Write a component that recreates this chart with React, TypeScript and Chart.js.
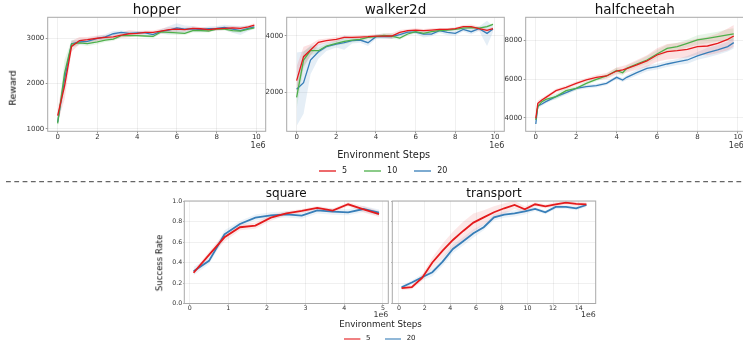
import React, { useEffect, useRef } from "react";
import { Chart, registerables } from "chart.js";

Chart.register(...registerables);

const FONT = "'DejaVu Sans', 'Liberation Sans', sans-serif";
const RED = "#e41a1c";
const GREEN = "#4daf4a";
const BLUE = "#377eb8";

// ---------- legend labels ----------
const LEGEND_TOP = ["5", "10", "20"];
const LEGEND_BOTTOM = ["5", "20"];

// ---------- tick values ----------
const stepsTicksTop = [0, 2, 4, 6, 8, 10];
const hopperYTicks = [1000, 2000, 3000];
const walkerYTicks = [2000, 4000];
const cheetahYTicks = [4000, 6000, 8000];
const squareXTicks = [0, 1, 2, 3, 4, 5];
const transportXTicks = [0, 2, 4, 6, 8, 10, 12, 14];
const successYTicks = [0, 0.2, 0.4, 0.6, 0.8, 1.0];

// ---------- hopper ----------
const hopperX = [0, 0.35, 0.7, 1.1, 1.5, 2, 2.4, 2.8, 3.2, 3.6, 4, 4.4, 4.8, 5.2, 5.6, 6, 6.4, 6.8, 7.2, 7.6, 8, 8.4, 8.8, 9.2, 9.6, 9.9];
const hopper5 = [1290, 1950, 2820, 2950, 2970, 3000, 3020, 3030, 3070, 3100, 3110, 3130, 3130, 3160, 3190, 3200, 3190, 3220, 3210, 3190, 3210, 3220, 3230, 3220, 3250, 3290];
const hopper10 = [1120, 2230, 2870, 2900, 2880, 2920, 2960, 2980, 3060, 3060, 3060, 3050, 3040, 3140, 3130, 3120, 3110, 3170, 3170, 3160, 3200, 3200, 3170, 3160, 3200, 3230];
const hopper20 = [1150, 2100, 2880, 2920, 2930, 3000, 3030, 3100, 3130, 3110, 3120, 3120, 3080, 3150, 3180, 3230, 3200, 3210, 3190, 3210, 3220, 3240, 3200, 3170, 3220, 3250];
const hopper5Sd = [150, 300, 120, 80, 60, 60, 50, 60, 60, 80, 50, 40, 40, 50, 60, 50, 40, 40, 40, 40, 40, 40, 40, 40, 40, 40];
const hopper10Sd = [100, 300, 80, 50, 50, 50, 40, 40, 40, 30, 30, 30, 40, 40, 50, 50, 40, 40, 40, 30, 30, 30, 40, 40, 30, 30];
const hopper20Sd = [100, 250, 80, 50, 60, 50, 60, 60, 40, 40, 40, 40, 50, 50, 90, 100, 80, 60, 50, 50, 50, 60, 80, 100, 60, 40];

// ---------- walker2d ----------
const walkerX = [0, 0.35, 0.7, 1.1, 1.5, 2, 2.4, 2.8, 3.2, 3.6, 4, 4.4, 4.8, 5.2, 5.6, 6, 6.4, 6.8, 7.2, 7.6, 8, 8.4, 8.8, 9.2, 9.6, 9.9];
const walker5 = [2412, 3259, 3494, 3765, 3824, 3870, 3941, 3940, 3953, 3965, 3988, 3988, 3990, 4118, 4176, 4200, 4176, 4200, 4224, 4224, 4247, 4318, 4318, 4247, 4188, 4247];
const walker10 = [1824, 3141, 3470, 3470, 3635, 3730, 3800, 3847, 3870, 3940, 3965, 4012, 3988, 3918, 4060, 4141, 4082, 4141, 4176, 4200, 4224, 4270, 4282, 4270, 4318, 4400];
const walker20 = [2106, 2341, 3141, 3435, 3612, 3706, 3753, 3824, 3847, 3753, 3965, 3965, 3965, 4035, 4129, 4129, 4059, 4059, 4176, 4118, 4082, 4224, 4141, 4247, 4082, 4235];
const walker5Sd = [500, 350, 200, 100, 80, 80, 60, 60, 60, 60, 60, 80, 100, 80, 60, 60, 60, 60, 50, 50, 50, 60, 80, 80, 60, 60];
const walker10Sd = [400, 300, 150, 100, 80, 80, 100, 80, 60, 60, 60, 80, 100, 60, 60, 60, 60, 60, 50, 50, 50, 50, 50, 50, 50, 50];
const walker20Sd = [1300, 1100, 500, 250, 150, 120, 250, 100, 100, 120, 80, 80, 80, 60, 60, 60, 120, 80, 80, 100, 80, 80, 100, 80, 450, 100];

// ---------- halfcheetah ----------
const cheetahX = [0, 0.1, 0.3, 0.5, 1, 1.5, 2, 2.5, 3, 3.5, 4, 4.3, 4.5, 5, 5.5, 6, 6.5, 7, 7.5, 8, 8.5, 9, 9.5, 9.8];
const cheetah5 = [3983, 4755, 4927, 5064, 5408, 5579, 5785, 5957, 6094, 6163, 6420, 6480, 6541, 6730, 6936, 7245, 7416, 7468, 7536, 7674, 7708, 7845, 8051, 8223];
const cheetah10 = [3897, 4584, 4842, 4961, 5099, 5408, 5528, 5785, 5991, 6163, 6450, 6330, 6558, 6781, 6987, 7296, 7588, 7674, 7845, 8017, 8103, 8189, 8275, 8326];
const cheetah20 = [3691, 4618, 4721, 4842, 5099, 5305, 5528, 5614, 5665, 5785, 6094, 5957, 6094, 6335, 6558, 6644, 6781, 6884, 6987, 7193, 7365, 7502, 7674, 7880];
const cheetah5Sd = [100, 150, 100, 100, 100, 100, 100, 100, 120, 150, 180, 200, 200, 250, 300, 350, 400, 400, 420, 420, 480, 500, 560, 560];
const cheetah10Sd = [100, 150, 100, 100, 150, 150, 100, 100, 100, 100, 150, 150, 150, 150, 200, 200, 200, 200, 200, 250, 250, 250, 300, 300];
const cheetah20Sd = [100, 120, 100, 100, 100, 120, 100, 100, 100, 100, 100, 100, 120, 150, 150, 150, 150, 150, 200, 200, 250, 250, 250, 300];

// ---------- square ----------
const squareX = [0.1, 0.5, 0.9, 1.3, 1.7, 2.1, 2.5, 2.9, 3.3, 3.7, 4.1, 4.5, 4.9];
const square5 = [0.30, 0.474, 0.646, 0.744, 0.76, 0.838, 0.88, 0.903, 0.932, 0.906, 0.968, 0.919, 0.873];
const square20 = [0.315, 0.416, 0.675, 0.776, 0.838, 0.86, 0.87, 0.857, 0.909, 0.896, 0.89, 0.922, 0.886];
const square5Sd = [0.02, 0.03, 0.04, 0.03, 0.03, 0.03, 0.02, 0.02, 0.02, 0.02, 0.02, 0.03, 0.03];
const square20Sd = [0.04, 0.03, 0.04, 0.03, 0.03, 0.03, 0.03, 0.03, 0.03, 0.03, 0.03, 0.03, 0.03];

// ---------- transport ----------
const transportX = [0.2, 1.0, 1.8, 2.6, 3.4, 4.2, 5.0, 5.8, 6.6, 7.4, 8.2, 9.0, 9.8, 10.6, 11.4, 12.2, 13.0, 13.8, 14.6];
const transport5 = [0.149, 0.159, 0.25, 0.40, 0.516, 0.62, 0.708, 0.789, 0.84, 0.89, 0.929, 0.961, 0.919, 0.968, 0.948, 0.968, 0.984, 0.971, 0.968];
const transport20 = [0.159, 0.205, 0.256, 0.305, 0.409, 0.532, 0.607, 0.685, 0.744, 0.84, 0.867, 0.88, 0.899, 0.922, 0.89, 0.942, 0.942, 0.929, 0.961];
const transport5Sd = [0.02, 0.02, 0.03, 0.05, 0.07, 0.08, 0.09, 0.09, 0.07, 0.06, 0.05, 0.04, 0.03, 0.02, 0.02, 0.02, 0.02, 0.02, 0.02];
const transport20Sd = [0.02, 0.02, 0.03, 0.04, 0.04, 0.04, 0.04, 0.04, 0.03, 0.03, 0.03, 0.03, 0.03, 0.02, 0.02, 0.02, 0.02, 0.02, 0.02];

type Series = { color: string; y: number[]; sd: number[] };

type PanelSpec = {
  title: string;
  titleSize: number;
  titlePadTop: number;
  titlePadBottom: number;
  left: number;
  top: number;
  width: number;
  height: number;
  yAxisWidth: number;
  xAxisHeight: number;
  padRight: number;
  x: number[];
  series: Series[]; // first is drawn on top
  xMin: number;
  xMax: number;
  xTicks: number[];
  yMin: number;
  yMax: number;
  yTicks: number[];
  yDecimals: number;
  showYLabels: boolean;
  tickSize: number;
  xTickLen: number;
  xTickPad: number;
  yTickLen: number;
  yTickPad: number;
  lineWidth: number;
  bandAlpha: number;
  offsetDy: number;
  offsetSize: number;
};

function rgba(hex: string, a: number) {
  const n = parseInt(hex.slice(1), 16);
  return `rgba(${(n >> 16) & 255},${(n >> 8) & 255},${n & 255},${a})`;
}

const TOP_COMMON = {
  titleSize: 13.5,
  titlePadTop: 3.5,
  titlePadBottom: 0.3,
  top: 0,
  height: 152,
  xAxisHeight: 20.7,
  tickSize: 7,
  xTickLen: 2,
  xTickPad: 0,
  yTickLen: 2,
  yTickPad: 1.4,
  lineWidth: 1.3,
  bandAlpha: 0.13,
  offsetDy: 14.7,
  offsetSize: 8,
  yDecimals: 0,
  showYLabels: true,
  xTicks: stepsTicksTop,
};

const BOTTOM_COMMON = {
  titleSize: 12,
  titlePadTop: 0.1,
  titlePadBottom: 0.9,
  top: 188,
  height: 132,
  xAxisHeight: 16.5,
  tickSize: 6.3,
  xTickLen: 1,
  xTickPad: 0,
  yTickLen: 1,
  yTickPad: 1,
  lineWidth: 1.8,
  bandAlpha: 0.1,
  offsetDy: 11.5,
  offsetSize: 7.8,
  yDecimals: 1,
  yMin: 0,
  yMax: 1,
  yTicks: successYTicks,
};

const PANELS: PanelSpec[] = [
  {
    ...TOP_COMMON,
    title: "hopper",
    left: 0,
    width: 268,
    yAxisWidth: 47.7,
    padRight: 2.3,
    x: hopperX,
    series: [
      { color: RED, y: hopper5, sd: hopper5Sd },
      { color: GREEN, y: hopper10, sd: hopper10Sd },
      { color: BLUE, y: hopper20, sd: hopper20Sd },
    ],
    xMin: -0.5,
    xMax: 10.47,
    yMin: 945,
    yMax: 3463,
    yTicks: hopperYTicks,
  },
  {
    ...TOP_COMMON,
    title: "walker2d",
    left: 262,
    width: 245,
    yAxisWidth: 24.7,
    padRight: 2.7,
    x: walkerX,
    series: [
      { color: RED, y: walker5, sd: walker5Sd },
      { color: GREEN, y: walker10, sd: walker10Sd },
      { color: BLUE, y: walker20, sd: walker20Sd },
    ],
    xMin: -0.5,
    xMax: 10.47,
    yMin: 622,
    yMax: 4650,
    yTicks: walkerYTicks,
  },
  {
    ...TOP_COMMON,
    title: "halfcheetah",
    left: 501,
    width: 245,
    yAxisWidth: 24.7,
    padRight: 2.1,
    x: cheetahX,
    series: [
      { color: RED, y: cheetah5, sd: cheetah5Sd },
      { color: GREEN, y: cheetah10, sd: cheetah10Sd },
      { color: BLUE, y: cheetah20, sd: cheetah20Sd },
    ],
    xMin: -0.5,
    xMax: 10.3,
    yMin: 3315,
    yMax: 9185,
    yTicks: cheetahYTicks,
  },
  {
    ...BOTTOM_COMMON,
    title: "square",
    left: 150,
    width: 241,
    yAxisWidth: 34.3,
    padRight: 2.7,
    x: squareX,
    series: [
      { color: RED, y: square5, sd: square5Sd },
      { color: BLUE, y: square20, sd: square20Sd },
    ],
    xMin: -0.14,
    xMax: 5.14,
    xTicks: squareXTicks,
    showYLabels: true,
  },
  {
    ...BOTTOM_COMMON,
    title: "transport",
    left: 370,
    width: 228,
    yAxisWidth: 22.3,
    padRight: 2.3,
    x: transportX,
    series: [
      { color: RED, y: transport5, sd: transport5Sd },
      { color: BLUE, y: transport20, sd: transport20Sd },
    ],
    xMin: -0.52,
    xMax: 15.32,
    xTicks: transportXTicks,
    showYLabels: false,
  },
];

const framePlugin = {
  id: "frame",
  afterDatasetsDraw(chart: any) {
    const { ctx, chartArea: a } = chart;
    ctx.save();
    ctx.strokeStyle = "#a9a9a9";
    ctx.lineWidth = 1;
    ctx.strokeRect(a.left, a.top, a.right - a.left, a.bottom - a.top);
    ctx.restore();
  },
};

const offsetTextPlugin = {
  id: "offsetText",
  afterDraw(chart: any, _args: any, opts: any) {
    const { ctx, chartArea: a } = chart;
    ctx.save();
    ctx.font = `${opts.size}px ${FONT}`;
    ctx.fillStyle = "#333";
    ctx.textAlign = "right";
    ctx.textBaseline = "middle";
    ctx.fillText(opts.text, a.right, a.bottom + opts.dy);
    ctx.restore();
  },
};

function buildConfig(p: PanelSpec): any {
  const lines = p.series.map((s) => ({
    data: p.x.map((xv, i) => ({ x: xv, y: s.y[i] })),
    borderColor: s.color,
    backgroundColor: s.color,
    borderWidth: p.lineWidth,
    pointRadius: 0,
    fill: false,
    tension: 0,
  }));
  const bands: any[] = [];
  p.series.forEach((s) => {
    bands.push({
      data: p.x.map((xv, i) => ({ x: xv, y: s.y[i] + s.sd[i] })),
      borderColor: "rgba(0,0,0,0)",
      borderWidth: 0,
      pointRadius: 0,
      backgroundColor: rgba(s.color, p.bandAlpha),
      fill: "+1",
      tension: 0,
    });
    bands.push({
      data: p.x.map((xv, i) => ({ x: xv, y: s.y[i] - s.sd[i] })),
      borderColor: "rgba(0,0,0,0)",
      borderWidth: 0,
      pointRadius: 0,
      fill: false,
      tension: 0,
    });
  });
  const tickFont = { family: FONT, size: p.tickSize };
  return {
    type: "line",
    data: { datasets: [...lines, ...bands] },
    plugins: [framePlugin, offsetTextPlugin],
    options: {
      responsive: false,
      animation: false,
      events: [],
      layout: { padding: { left: 0, top: 0, right: p.padRight, bottom: 0 } },
      plugins: {
        legend: { display: false },
        tooltip: { enabled: false },
        title: {
          display: true,
          text: p.title,
          fullSize: false,
          color: "#111",
          font: { family: FONT, size: p.titleSize, weight: "normal", lineHeight: 1 },
          padding: { top: p.titlePadTop, bottom: p.titlePadBottom },
        },
        offsetText: { text: "1e6", dy: p.offsetDy, size: p.offsetSize },
      },
      scales: {
        x: {
          type: "linear",
          min: p.xMin,
          max: p.xMax,
          afterBuildTicks: (s: any) => {
            s.ticks = p.xTicks.map((v) => ({ value: v }));
          },
          ticks: {
            autoSkip: false,
            maxRotation: 0,
            font: tickFont,
            color: "#333",
            padding: p.xTickPad,
            callback: (v: number) => String(v),
          },
          grid: { color: "rgba(0,0,0,0.06)", tickColor: "#999", tickLength: p.xTickLen },
          border: { display: false },
          afterFit: (s: any) => {
            s.height = p.xAxisHeight;
          },
        },
        y: {
          type: "linear",
          min: p.yMin,
          max: p.yMax,
          afterBuildTicks: (s: any) => {
            s.ticks = p.yTicks.map((v) => ({ value: v }));
          },
          ticks: {
            autoSkip: false,
            display: p.showYLabels,
            font: tickFont,
            color: "#333",
            padding: p.yTickPad,
            callback: (v: number) => Number(v).toFixed(p.yDecimals),
          },
          grid: { color: "rgba(0,0,0,0.06)", tickColor: "#999", tickLength: p.yTickLen },
          border: { display: false },
          afterFit: (s: any) => {
            s.width = p.yAxisWidth;
          },
        },
      },
    },
  };
}

function Panel({ spec }: { spec: PanelSpec }) {
  const ref = useRef<HTMLCanvasElement | null>(null);
  useEffect(() => {
    if (!ref.current) return;
    const chart = new Chart(ref.current, buildConfig(spec));
    return () => chart.destroy();
  }, [spec]);
  return (
    <canvas
      ref={ref}
      width={spec.width}
      height={spec.height}
      style={{ position: "absolute", left: spec.left, top: spec.top, width: spec.width, height: spec.height }}
    />
  );
}

function VText({ text, cx, cy, size }: { text: string; cx: number; cy: number; size: number }) {
  return (
    <div
      style={{
        position: "absolute",
        left: cx,
        top: cy,
        transform: "translate(-50%, -50%) rotate(180deg)",
        writingMode: "vertical-rl",
        fontSize: size,
        lineHeight: 1,
        whiteSpace: "nowrap",
        color: "#111",
      }}
    >
      {text}
    </div>
  );
}

function HText({ text, cx, top, size }: { text: string; cx: number; top: number; size: number }) {
  return (
    <div
      style={{
        position: "absolute",
        left: cx,
        top,
        transform: "translateX(-50%)",
        fontSize: size,
        lineHeight: 1,
        whiteSpace: "nowrap",
        color: "#222",
      }}
    >
      {text}
    </div>
  );
}

function Legend({
  labels,
  colors,
  left,
  top,
  size,
  lineLen,
  lineW,
  textGap,
  itemGap,
}: {
  labels: string[];
  colors: string[];
  left: number;
  top: number;
  size: number;
  lineLen: number;
  lineW: number;
  textGap: number;
  itemGap: number;
}) {
  return (
    <div
      style={{
        position: "absolute",
        left,
        top,
        display: "flex",
        alignItems: "center",
        height: size + 2,
        fontSize: size,
        lineHeight: 1,
        color: "#222",
        whiteSpace: "nowrap",
      }}
    >
      {labels.map((l, i) => (
        <div key={l} style={{ display: "flex", alignItems: "center", marginRight: i < labels.length - 1 ? itemGap : 0 }}>
          <svg width={lineLen} height={4} style={{ marginRight: textGap, display: "block" }}>
            <line x1={0} y1={2} x2={lineLen} y2={2} stroke={colors[i]} strokeWidth={lineW} />
          </svg>
          <span>{l}</span>
        </div>
      ))}
    </div>
  );
}

export default function App() {
  return (
    <div
      style={{
        position: "fixed",
        left: 0,
        top: 0,
        width: 743,
        height: 343,
        overflow: "hidden",
        background: "#fff",
        fontFamily: FONT,
      }}
    >
      {PANELS.map((p) => (
        <Panel key={p.title} spec={p} />
      ))}
      <VText text="Reward" cx={13.3} cy={88} size={9.5} />
      <VText text="Success Rate" cx={160} cy={263.3} size={8.5} />
      <HText text="Environment Steps" cx={383.7} top={149.8} size={9.8} />
      <HText text="Environment Steps" cx={380.5} top={320} size={8.7} />
      <Legend
        labels={LEGEND_TOP}
        colors={[RED, GREEN, BLUE]}
        left={319}
        top={166}
        size={8}
        lineLen={17}
        lineW={1.3}
        textGap={6}
        itemGap={17}
      />
      <Legend
        labels={LEGEND_BOTTOM}
        colors={[rgba(RED, 0.55), rgba(BLUE, 0.55)]}
        left={344.3}
        top={334}
        size={7}
        lineLen={16.4}
        lineW={2}
        textGap={5.3}
        itemGap={14.5}
      />
      <svg style={{ position: "absolute", left: 0, top: 176 }} width={743} height={12}>
        <line x1={6} y1={5.7} x2={743} y2={5.7} stroke="#666" strokeWidth={1.3} strokeDasharray="4.8 3.5" />
      </svg>
    </div>
  );
}
